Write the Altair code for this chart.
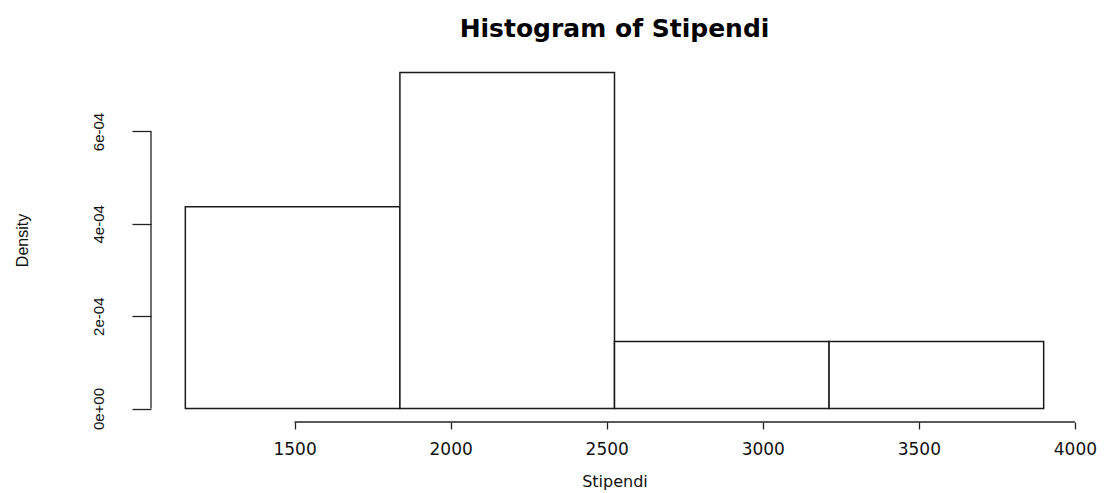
import altair as alt
import pandas as pd

# Histogram bins
bin_start = [1150, 1837.5, 2525, 3212.5]
bin_end = [1837.5, 2525, 3212.5, 3900]
density = [4.37e-4, 7.28e-4, 1.45e-4, 1.45e-4]

x_ticks = [1500, 2000, 2500, 3000, 3500, 4000]
y_ticks = [0, 2e-4, 4e-4, 6e-4]
y_tick_labels = ["0e+00", "2e-04", "4e-04", "6e-04"]

x_domain = [1040, 4010]
y_domain = [-2.91e-5, 7.57e-4]

W, H = 927, 363

bars_df = pd.DataFrame({"start": bin_start, "end": bin_end, "density": density})

# label expression built from the label list
expr = "'" + y_tick_labels[-1] + "'"
for v, lab in reversed(list(zip(y_ticks[:-1], y_tick_labels[:-1]))):
    expr = f"datum.value < {v + 1e-4} ? '{lab}' : " + expr

xscale = alt.Scale(domain=x_domain, nice=False, zero=False)
yscale = alt.Scale(domain=y_domain, nice=False, zero=False)

x_axis = alt.Axis(
    values=x_ticks, format="d", domain=False, grid=False,
    tickSize=7, tickColor="#222", tickWidth=1.3,
    labelFont="DejaVu Sans", labelFontSize=17, labelColor="#111",
    labelPadding=12, labelFlush=False, labelOverlap=False,
    title="Stipendi", titleFont="DejaVu Sans", titleFontSize=16,
    titleFontWeight="normal", titleColor="#111",
    titleY=59, titleBaseline="middle", titleAlign="center",
)
y_axis = alt.Axis(
    values=y_ticks, labelExpr=expr, domain=False, grid=False,
    tickSize=19, tickColor="#222", tickWidth=1.3,
    labelFont="Liberation Sans", labelFontSize=15, labelColor="#111",
    labelAngle=270, labelAlign="center", labelBaseline="middle",
    labelPadding=34, labelFlush=False, labelOverlap=False,
    title="Density", titleFont="Liberation Sans", titleFontSize=16,
    titleFontWeight="normal", titleColor="#111",
    titleAngle=270, titleX=-129, titleY=181, titleBaseline="middle", titleAlign="center",
)

bars = alt.Chart(bars_df).mark_rect(
    fill="white", stroke="#1a1a1a", strokeWidth=1.5
).encode(
    x=alt.X("start:Q", scale=xscale, axis=x_axis),
    x2="end:Q",
    y=alt.Y("density:Q", scale=yscale, axis=y_axis),
    y2=alt.datum(0),
)

xline_df = pd.DataFrame({"a": [min(x_ticks)], "b": [max(x_ticks)]})
xline = alt.Chart(xline_df).mark_rule(color="#222", strokeWidth=1.3).encode(
    x=alt.X("a:Q", scale=xscale), x2="b:Q", y=alt.datum(y_domain[0])
)
yline_df = pd.DataFrame({"a": [min(y_ticks)], "b": [max(y_ticks)]})
yline = alt.Chart(yline_df).mark_rule(color="#222", strokeWidth=1.3).encode(
    y=alt.Y("a:Q", scale=yscale), y2="b:Q", x=alt.datum(x_domain[0])
)

chart = alt.layer(bars, xline, yline).properties(
    width=W, height=H,
    background="white",
    title=alt.TitleParams(
        "Histogram of Stipendi", font="DejaVu Sans", fontSize=25,
        fontWeight="bold", color="black", anchor="middle",
        baseline="alphabetic", offset=24, dy=27,
    ),
    autosize=alt.AutoSizeParams(type="none"),
    padding={"left": 143, "top": 51, "right": 25, "bottom": 74},
).configure_view(strokeWidth=0, stroke="transparent")

chart.save("out.html", embed_options={"renderer": "svg", "actions": False})
